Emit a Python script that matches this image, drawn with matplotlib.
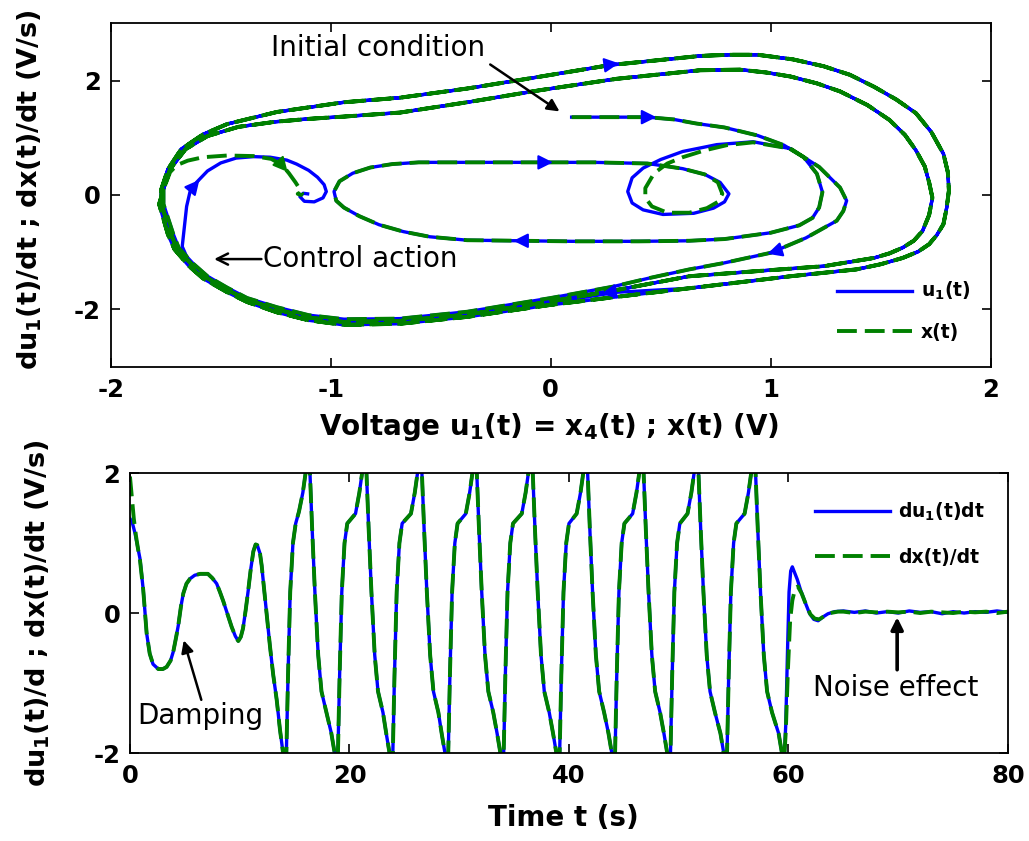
import matplotlib
matplotlib.use("Agg")
import matplotlib.pyplot as plt
from matplotlib.lines import Line2D

plt.rcParams["font.family"] = ["DejaVu Sans"]
plt.rcParams["mathtext.default"] = "regular"
plt.rcParams["axes.unicode_minus"] = False

# ---------------- phase portrait (x, dx/dt) ----------------
# transient from the initial condition round the inner ellipse
ic_x = [0.095, 0.25, 0.44, 0.56, 0.66, 0.79, 0.94, 1.06, 1.15, 1.21, 1.235, 1.22, 1.19, 1.13,
        1.0, 0.79, 0.63, 0.40, 0.10, -0.13, -0.38, -0.55, -0.67, -0.78, -0.87, -0.94, -0.975,
        -0.985, -0.96, -0.90, -0.82, -0.72, -0.60, -0.29, -0.03, 0.20, 0.44]
ic_y = [1.36, 1.36, 1.36, 1.32, 1.25, 1.18, 1.04, 0.87, 0.66, 0.37, 0.05, -0.22, -0.40, -0.53,
        -0.66, -0.77, -0.80, -0.81, -0.81, -0.80, -0.79, -0.73, -0.64, -0.52, -0.37, -0.22, -0.10,
        0.06, 0.24, 0.38, 0.48, 0.54, 0.57, 0.57, 0.57, 0.57, 0.55]

# small spiral on the right, then exit towards the lower band
spiral_u_x = [0.60, 0.70, 0.77, 0.81, 0.79, 0.74, 0.65, 0.51, 0.42, 0.37, 0.35, 0.37, 0.42, 0.50,
              0.60, 0.755, 0.92, 1.09, 1.22, 1.315, 1.345, 1.33, 1.30, 1.16, 1.0, 0.785, 0.63]
spiral_u_y = [0.46, 0.36, 0.22, 0.02, -0.12, -0.23, -0.32, -0.34, -0.26, -0.14, 0.06, 0.30, 0.47,
              0.62, 0.76, 0.88, 0.93, 0.81, 0.49, 0.13, -0.10, -0.28, -0.45, -0.75, -1.01, -1.19, -1.30]
spiral_x_x = [0.60, 0.70, 0.76, 0.78, 0.76, 0.71, 0.63, 0.53, 0.46, 0.43, 0.43, 0.47, 0.53, 0.60,
              0.70, 0.80, 0.92, 1.09, 1.22, 1.315, 1.345, 1.33, 1.30, 1.16, 1.0, 0.785, 0.63]
spiral_x_y = [0.46, 0.36, 0.22, 0.02, -0.12, -0.23, -0.31, -0.31, -0.20, -0.05, 0.12, 0.38, 0.55,
              0.66, 0.78, 0.87, 0.92, 0.81, 0.49, 0.13, -0.10, -0.28, -0.45, -0.75, -1.01, -1.19, -1.30]

# strands of the lower band (moving left)
low_a_x = [0.45, 0.285, 0.0, -0.38, -0.685, -0.94, -1.10, -1.245, -1.38, -1.47, -1.56, -1.625, -1.69, -1.715, -1.76]
low_a_y = [-1.45, -1.60, -1.80, -2.04, -2.16, -2.17, -2.10, -1.96, -1.80, -1.62, -1.42, -1.20, -0.93, -0.69, -0.16]
low_b_x = [0.30, 0.0, -0.38, -0.685, -0.94, -1.10, -1.245, -1.38, -1.47, -1.57, -1.63, -1.70, -1.725, -1.77]
low_b_y = [-1.66, -1.86, -2.09, -2.20, -2.22, -2.14, -2.00, -1.83, -1.66, -1.43, -1.22, -0.93, -0.69, -0.16]
low_c_x = [0.30, 0.0, -0.38, -0.685, -0.94, -1.10, -1.245, -1.38, -1.47, -1.58, -1.645, -1.71, -1.74, -1.78]
low_c_y = [-1.78, -1.92, -2.13, -2.25, -2.27, -2.19, -2.05, -1.87, -1.70, -1.46, -1.24, -0.95, -0.69, -0.16]

# inner and outer strands of the upper band and right side
up_in_x = [-1.76, -1.73, -1.66, -1.56, -1.42, -1.25, -1.10, -0.94, -0.685, -0.38, -0.05, 0.30, 0.68,
           0.86, 0.98, 1.09, 1.21, 1.315, 1.44, 1.54, 1.61, 1.66, 1.70, 1.72, 1.735, 1.72, 1.69,
           1.65, 1.60, 1.54, 1.47, 1.24, 0.94, 0.63]
up_in_y = [0.10, 0.45, 0.80, 1.03, 1.19, 1.28, 1.33, 1.37, 1.44, 1.62, 1.83, 2.03, 2.18,
           2.19, 2.14, 2.07, 1.95, 1.81, 1.57, 1.31, 1.05, 0.78, 0.50, 0.22, -0.05, -0.35, -0.63,
           -0.80, -0.92, -1.02, -1.10, -1.245, -1.33, -1.42]
up_out_x = [-1.77, -1.74, -1.68, -1.58, -1.47, -1.245, -0.94, -0.685, -0.38, -0.155, 0.27, 0.68,
            0.81, 0.94, 1.10, 1.24, 1.36, 1.47, 1.57, 1.66, 1.73, 1.785, 1.805, 1.81, 1.80, 1.785,
            1.755, 1.72, 1.67, 1.60, 1.50, 1.39, 1.09, 0.63]
up_out_y = [0.10, 0.45, 0.80, 1.06, 1.24, 1.45, 1.62, 1.70, 1.86, 2.00, 2.27, 2.43,
            2.45, 2.45, 2.37, 2.25, 2.10, 1.89, 1.67, 1.43, 1.10, 0.72, 0.40, 0.08, -0.22, -0.51,
            -0.70, -0.86, -0.99, -1.10, -1.21, -1.30, -1.42, -1.63]

# control switched on: u1 leaves the band and settles at the equilibrium
ctrl_u_x = [0.30, 0.0, -0.38, -0.685, -0.94, -1.10, -1.245, -1.38, -1.47, -1.58, -1.65, -1.675,
            -1.665, -1.655, -1.64, -1.61, -1.56, -1.50, -1.43, -1.35, -1.275, -1.20, -1.155, -1.10,
            -1.06, -1.03, -1.02, -1.035, -1.075, -1.12, -1.14, -1.125, -1.105]
ctrl_u_y = [-1.70, -1.88, -2.11, -2.22, -2.24, -2.16, -2.02, -1.85, -1.68, -1.38, -1.12, -0.90,
            -0.55, -0.20, 0.05, 0.22, 0.42, 0.56, 0.645, 0.67, 0.66, 0.61, 0.54, 0.43,
            0.31, 0.18, 0.06, -0.05, -0.12, -0.11, -0.03, 0.03, 0.02]
ctrl_x_x = [-1.76, -1.73, -1.70, -1.65, -1.58, -1.47, -1.35, -1.27, -1.22, -1.19, -1.16, -1.14,
            -1.13, -1.135, -1.15, -1.14]
ctrl_x_y = [0.10, 0.40, 0.52, 0.60, 0.66, 0.69, 0.68, 0.63, 0.52, 0.38, 0.22, 0.10,
            0.03, 0.0, 0.02, 0.04]

# direction arrows drawn on the trajectory
arrow_x = [0.44, 0.27, -0.03, -0.13, 1.0, 0.27, -1.60, -1.20]
arrow_y = [1.36, 2.28, 0.57, -0.80, -1.01, -1.70, 0.25, 0.42]
arrow_u = [1.0, 1.0, 1.0, -1.0, -0.37, -1.0, 0.08, 0.10]
arrow_v = [0.0, 0.52, 0.0, 0.0, -0.44, -0.70, 0.37, -0.45]
arrow_c = ["b", "b", "b", "b", "b", "b", "b", "g"]

# ---------------- time series of the derivative ----------------
start_u_t = [0.0, 0.2, 0.46, 0.7, 0.91, 1.21, 1.52, 1.8, 2.1, 2.58, 3.0, 3.34, 3.7, 3.95, 4.2, 4.4,
             4.65, 4.86, 5.15, 5.47, 5.9, 6.4, 7.1, 7.5, 7.9, 8.2, 8.5, 8.9, 9.27, 9.6, 9.87, 10.1,
             10.3, 10.55, 10.78, 11.0, 11.24, 11.45, 11.6, 11.85, 12.0, 12.15, 12.45, 12.76, 13.05,
             13.37, 13.67, 13.95]
start_u_y = [1.35, 1.30, 1.14, 0.95, 0.78, 0.33, -0.29, -0.58, -0.73, -0.80, -0.80, -0.77, -0.68,
             -0.55, -0.35, -0.18, 0.10, 0.28, 0.42, 0.49, 0.54, 0.56, 0.56, 0.50, 0.42, 0.30, 0.17,
             -0.02, -0.20, -0.33, -0.40, -0.34, -0.22, 0.05, 0.33, 0.62, 0.88, 0.98, 0.97, 0.85,
             0.68, 0.45, -0.02, -0.48, -0.88, -1.24, -1.67, -2.0]
start_x_t = [0.0, 0.15, 0.35, 0.55, 0.75, 0.91] + start_u_t[5:]
start_x_y = [1.95, 1.70, 1.35, 1.10, 0.90, 0.76] + start_u_y[5:]

# nine large oscillations, 14 s .. 59.5 s
osc_t = [14.1, 14.25, 14.4, 14.6, 14.85, 15.1, 15.4, 15.75, 16.0, 16.2, 16.4, 16.6, 16.85, 17.15, 17.45, 17.9, 18.35, 18.65,
         18.8, 18.95, 19.1, 19.3, 19.55, 19.8, 20.55, 20.9, 21.15, 21.35, 21.55, 21.75, 22.0, 22.3, 22.6, 23.05, 23.35, 23.65,
         23.8, 23.95, 24.1, 24.3, 24.55, 24.8, 25.6, 25.95, 26.2, 26.4, 26.6, 26.8, 27.05, 27.35, 27.65, 28.1, 28.4, 28.7,
         28.85, 29.0, 29.15, 29.35, 29.6, 29.85, 30.6, 30.95, 31.2, 31.4, 31.6, 31.8, 32.05, 32.35, 32.65, 33.1, 33.45, 33.75,
         33.9, 34.05, 34.2, 34.4, 34.65, 34.9, 35.7, 36.05, 36.3, 36.5, 36.7, 36.9, 37.15, 37.45, 37.75, 38.2, 38.55, 38.85,
         39.0, 39.15, 39.3, 39.5, 39.75, 40.0, 40.7, 41.05, 41.3, 41.5, 41.7, 41.9, 42.15, 42.45, 42.75, 43.2, 43.6, 43.9,
         44.05, 44.2, 44.35, 44.55, 44.8, 45.05, 45.8, 46.15, 46.4, 46.6, 46.8, 47.0, 47.25, 47.55, 47.85, 48.3, 48.65, 48.95,
         49.1, 49.25, 49.4, 49.6, 49.85, 50.1, 50.8, 51.15, 51.4, 51.6, 51.8, 52.0, 52.25, 52.55, 52.85, 53.3, 53.8, 54.1,
         54.25, 54.4, 54.55, 54.75, 55.0, 55.25, 56.0, 56.35, 56.6, 56.8, 57.0, 57.2, 57.45, 57.75, 58.05, 58.5, 59.1, 59.4]
osc_y = [-2.25, -2.0, -0.9, 0.3, 1.0, 1.28, 1.45, 1.72, 2.0, 2.4, 2.0, 1.2, 0.3, -0.6, -1.12, -1.42, -1.72, -2.0,
         -2.25, -2.0, -0.9, 0.3, 1.0, 1.28, 1.42, 1.72, 2.0, 2.4, 2.0, 1.2, 0.3, -0.6, -1.12, -1.42, -1.72, -2.0,
         -2.25, -2.0, -0.9, 0.3, 1.0, 1.28, 1.42, 1.72, 2.0, 2.4, 2.0, 1.2, 0.3, -0.6, -1.12, -1.42, -1.72, -2.0,
         -2.25, -2.0, -0.9, 0.3, 1.0, 1.28, 1.42, 1.72, 2.0, 2.4, 2.0, 1.2, 0.3, -0.6, -1.12, -1.42, -1.72, -2.0,
         -2.25, -2.0, -0.9, 0.3, 1.0, 1.28, 1.42, 1.72, 2.0, 2.4, 2.0, 1.2, 0.3, -0.6, -1.12, -1.42, -1.72, -2.0,
         -2.25, -2.0, -0.9, 0.3, 1.0, 1.28, 1.42, 1.72, 2.0, 2.4, 2.0, 1.2, 0.3, -0.6, -1.12, -1.42, -1.72, -2.0,
         -2.25, -2.0, -0.9, 0.3, 1.0, 1.28, 1.42, 1.72, 2.0, 2.4, 2.0, 1.2, 0.3, -0.6, -1.12, -1.42, -1.72, -2.0,
         -2.25, -2.0, -0.9, 0.3, 1.0, 1.28, 1.42, 1.72, 2.0, 2.4, 2.0, 1.2, 0.3, -0.6, -1.12, -1.42, -1.72, -2.0,
         -2.25, -2.0, -0.9, 0.3, 1.0, 1.28, 1.42, 1.72, 2.0, 2.4, 2.0, 1.2, 0.3, -0.6, -1.12, -1.42, -1.72, -2.0]

# control on at 60 s, then the measurement noise around zero
end_u_t = [59.55, 59.75, 59.9, 60.05, 60.2, 60.35, 60.55, 60.8, 61.1, 61.5, 61.9, 62.3, 62.7, 63.1, 63.6,
           64.2, 65.0, 66.0, 67.0, 68.0, 69.0, 70.0, 71.0, 72.0, 73.0, 74.0, 75.0, 76.0, 77.0, 78.0, 79.0, 80.0]
end_u_y = [-2.25, -1.6, -0.6, 0.3, 0.6, 0.66, 0.58, 0.48, 0.33, 0.16, 0.0, -0.09, -0.11, -0.06, -0.01,
           0.02, 0.03, 0.01, 0.03, 0.0, 0.02, 0.0, 0.03, 0.01, 0.02, -0.01, 0.02, 0.0, 0.02, 0.01, 0.03, 0.01]
end_x_t = [59.55, 59.75, 59.95, 60.15, 60.35, 60.6, 60.85, 61.2, 61.6, 62.0, 62.4, 62.8, 63.3, 63.8, 64.5,
           65.0, 66.0, 67.0, 68.0, 69.0, 70.0, 71.0, 72.0, 73.0, 74.0, 75.0, 76.0, 77.0, 78.0, 79.0, 80.0]
end_x_y = [-2.25, -1.7, -0.8, -0.1, 0.18, 0.35, 0.38, 0.28, 0.12, -0.02, -0.08, -0.09, -0.04, 0.0, 0.02,
           0.02, 0.0, 0.02, 0.01, 0.02, 0.01, 0.02, 0.0, 0.02, 0.01, 0.0, 0.02, 0.01, 0.02, 0.0, 0.02]

# assemble the trajectories
u_x = (ic_x + spiral_u_x + low_a_x + up_in_x + low_b_x + up_out_x + low_c_x + up_in_x
       + low_b_x + up_out_x + ctrl_u_x)
u_y = (ic_y + spiral_u_y + low_a_y + up_in_y + low_b_y + up_out_y + low_c_y + up_in_y
       + low_b_y + up_out_y + ctrl_u_y)
x_x = (ic_x + spiral_x_x + low_a_x + up_in_x + low_b_x + up_out_x + low_c_x + up_in_x
       + low_b_x + up_out_x + low_c_x + ctrl_x_x)
x_y = (ic_y + spiral_x_y + low_a_y + up_in_y + low_b_y + up_out_y + low_c_y + up_in_y
       + low_b_y + up_out_y + low_c_y + ctrl_x_y)

du_t = start_u_t + osc_t + end_u_t
du_y = start_u_y + osc_y + end_u_y
dx_t = start_x_t + osc_t + end_x_t
dx_y = start_x_y + osc_y + end_x_y

BLUE = (0, 0, 1)
GREEN = (0, 0.5, 0)
DASH = (0, (5.1, 2.05))
LW_U = 2.4
LW_X = 2.8
LABEL_FONT = {"size": 20, "weight": "bold"}
YLABEL_FONT = {"size": 19.5, "weight": "bold"}
LEG_PROP = {"size": 13.5, "weight": "bold"}


def style_axes(ax):
    ax.tick_params(direction="in", length=6.3, width=1.2, top=True, right=True)
    ax.tick_params(axis="x", pad=8)
    ax.tick_params(axis="y", pad=7)
    for lab in ax.get_xticklabels() + ax.get_yticklabels():
        lab.set_fontsize(17.5)
        lab.set_fontweight("bold")
    for sp in ax.spines.values():
        sp.set_linewidth(1.3)


fig = plt.figure(figsize=(10.29, 8.41), dpi=100)

# ---- top: phase portrait
ax1 = fig.add_axes([0.1076, 0.5640, 0.8552, 0.4083])
ax1.plot(u_x, u_y, color=BLUE, lw=LW_U, solid_joinstyle="round")
ax1.plot(x_x, x_y, color=GREEN, lw=LW_X, linestyle=DASH)
for xa, ya, ua, va, ca in zip(arrow_x, arrow_y, arrow_u, arrow_v, arrow_c):
    col = BLUE if ca == "b" else GREEN
    ax1.annotate("", xy=(xa + 0.04 * ua, ya + 0.04 * va), xytext=(xa, ya),
                 arrowprops=dict(arrowstyle="-|>", color=col, lw=1.5,
                                 mutation_scale=22, shrinkA=0, shrinkB=0))
ax1.set_xlim(-2, 2)
ax1.set_ylim(-3, 3)
ax1.set_xticks([-2, -1, 0, 1, 2])
ax1.set_yticks([-2, 0, 2])
style_axes(ax1)
ax1.set_xlabel("Voltage u$_1$(t) = x$_4$(t) ; x(t) (V)", **LABEL_FONT)
ax1.set_ylabel("du$_1$(t)/dt ; dx(t)/dt (V/s)", **YLABEL_FONT)
ax1.xaxis.set_label_coords(0.498, -0.128)
ax1.yaxis.set_label_coords(-0.076, 0.515)

ax1.text(-0.785, 2.57, "Initial condition", fontsize=20, ha="center", va="center")
ax1.annotate("", xy=(0.04, 1.46), xytext=(-0.275, 2.28),
             arrowprops=dict(arrowstyle="-|>", color="k", lw=1.8, mutation_scale=18,
                             shrinkA=0, shrinkB=0))
ax1.text(-1.31, -1.11, "Control action", fontsize=20, ha="left", va="center")
ax1.annotate("", xy=(-1.53, -1.12), xytext=(-1.315, -1.12),
             arrowprops=dict(arrowstyle="->", color="k", lw=1.8, mutation_scale=20,
                             shrinkA=0, shrinkB=0))

leg1 = [Line2D([], [], color=BLUE, lw=LW_U), Line2D([], [], color=GREEN, lw=LW_X, linestyle=DASH)]
ax1.legend(leg1, ["u$_1$(t)", "x(t)"], loc="upper left", bbox_to_anchor=(0.825, 0.252),
           frameon=False, prop=LEG_PROP, handlelength=4.0,
           handletextpad=0.5, labelspacing=1.08, borderpad=0, borderaxespad=0)

# ---- bottom: derivative versus time
ax2 = fig.add_axes([0.1263, 0.1046, 0.8533, 0.3329])
ax2.plot(du_t, du_y, color=BLUE, lw=LW_U, solid_joinstyle="round")
ax2.plot(dx_t, dx_y, color=GREEN, lw=LW_X, linestyle=DASH)
ax2.set_xlim(0, 80)
ax2.set_ylim(-2, 2)
ax2.set_xticks([0, 20, 40, 60, 80])
ax2.set_yticks([-2, 0, 2])
style_axes(ax2)
ax2.set_xlabel("Time t (s)", **LABEL_FONT)
ax2.set_ylabel("du$_1$(t)/d ; dx(t)/dt (V/s)", **YLABEL_FONT)
ax2.xaxis.set_label_coords(0.494, -0.183)
ax2.yaxis.set_label_coords(-0.089, 0.5)

ax2.text(6.4, -1.47, "Damping", fontsize=20, ha="center", va="center")
ax2.annotate("", xy=(4.9, -0.39), xytext=(6.5, -1.24),
             arrowprops=dict(arrowstyle="-|>", color="k", lw=1.8, mutation_scale=18,
                             shrinkA=0, shrinkB=0))
ax2.text(69.8, -1.07, "Noise effect", fontsize=20, ha="center", va="center")
ax2.annotate("", xy=(69.9, -0.06), xytext=(69.9, -0.81),
             arrowprops=dict(arrowstyle="-|>", color="k", lw=2.6, mutation_scale=18,
                             shrinkA=0, shrinkB=0))

leg2 = [Line2D([], [], color=BLUE, lw=LW_U), Line2D([], [], color=GREEN, lw=LW_X, linestyle=DASH)]
ax2.legend(leg2, ["du$_1$(t)dt", "dx(t)/dt"], loc="upper left", bbox_to_anchor=(0.78, 0.90),
           frameon=False, prop=LEG_PROP, handlelength=4.0,
           handletextpad=0.45, labelspacing=1.3, borderpad=0, borderaxespad=0)

fig.savefig("out.png", dpi=100)
plt.close(fig)
